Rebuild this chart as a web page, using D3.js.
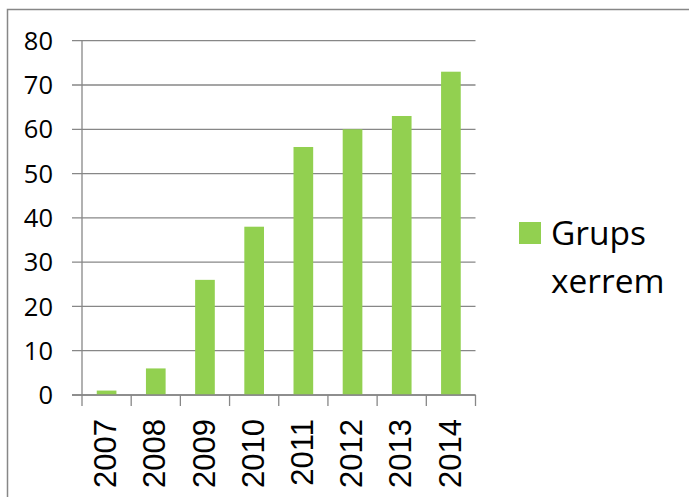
<!DOCTYPE html>
<html><head><meta charset="utf-8">
<script src="https://cdn.jsdelivr.net/npm/d3@7"></script>
<style>html,body{margin:0;padding:0;background:#fff;}svg{display:block;}</style>
</head><body>
<svg id="chart" width="689" height="497"></svg>
<script>
const categories = ["2007","2008","2009","2010","2011","2012","2013","2014"];
const values = [1, 6, 26, 38, 56, 60, 63, 73];
const yTicks = [0,10,20,30,40,50,60,70,80];
const seriesName = ["Grups", "xerrem"];

const svg = d3.select("#chart");
const gridColor = "#878787";
const barColor = "#92D050";

// outer frame (cropped at right/bottom)
svg.append("rect").attr("x",7.5).attr("y",9.5).attr("width",700).attr("height",520)
  .attr("fill","none").attr("stroke",gridColor).attr("stroke-width",1.5);

const pLeft = 82, pRight = 475.5, pTop = 40.7, pBottom = 395;
const x = d3.scaleBand().domain(categories).range([pLeft,pRight]).paddingInner(0).paddingOuter(0);
const y = d3.scaleLinear().domain([0,80]).range([pBottom, pTop]);

// gridlines + y ticks
svg.append("g").selectAll("line").data(yTicks).join("line")
  .attr("x1",72).attr("x2",pRight).attr("y1",d=>y(d)).attr("y2",d=>y(d))
  .attr("stroke",gridColor).attr("stroke-width",1.3);

// y labels
svg.append("g").selectAll("text").data(yTicks).join("text")
  .attr("x",53).attr("y",d=>y(d)).attr("dy","0.36em").attr("text-anchor","end")
  .attr("font-family","Open Sans").attr("font-size",25.5).attr("fill","#000").text(d=>d);

// bars
const bw = x.bandwidth()/2.5;
svg.append("g").selectAll("rect").data(values).join("rect")
  .attr("x",(d,i)=>x(categories[i])+x.bandwidth()/2-bw/2)
  .attr("width",bw)
  .attr("y",d=>y(d)).attr("height",d=>y(0)-y(d))
  .attr("fill",barColor);

// axes lines
svg.append("line").attr("x1",pLeft).attr("x2",pLeft).attr("y1",pTop).attr("y2",pBottom)
  .attr("stroke",gridColor).attr("stroke-width",1.3);
svg.append("line").attr("x1",72).attr("x2",pRight).attr("y1",pBottom).attr("y2",pBottom)
  .attr("stroke",gridColor).attr("stroke-width",1.3);
// x ticks at category boundaries
const bounds = categories.map(c=>x(c)).concat([pRight]);
svg.append("g").selectAll("line").data(bounds).join("line")
  .attr("x1",d=>d).attr("x2",d=>d).attr("y1",pBottom).attr("y2",406)
  .attr("stroke",gridColor).attr("stroke-width",1.3);

// x labels rotated
svg.append("g").selectAll("text").data(categories).join("text")
  .attr("transform",d=>`translate(${x(d)+x.bandwidth()/2-1.5},419) rotate(-90)`)
  .attr("text-anchor","end").attr("dy","0.36em")
  .attr("font-family","Liberation Sans").attr("font-size",31).attr("fill","#000").text(d=>d);

// legend
svg.append("rect").attr("x",519).attr("y",222).attr("width",22).attr("height",22).attr("fill",barColor);
svg.append("g").selectAll("text").data(seriesName).join("text")
  .attr("x",551).attr("y",(d,i)=>245+i*48)
  .attr("font-family","Open Sans").attr("font-size",33.5).attr("fill","#000").text(d=>d);
</script>
</body></html>
